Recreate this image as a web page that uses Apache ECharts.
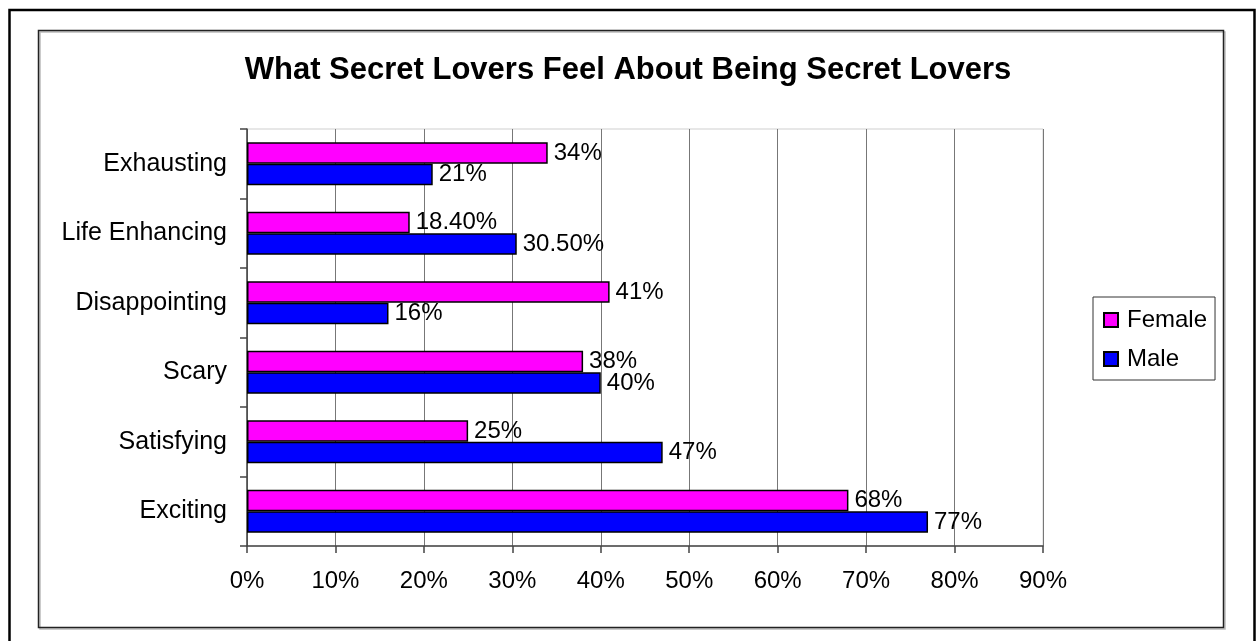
<!DOCTYPE html>
<html>
<head>
<meta charset="utf-8">
<script src="https://cdn.jsdelivr.net/npm/echarts@6/dist/echarts.min.js"></script>
<style>
html,body{margin:0;padding:0;background:#fff;}
#c{width:1256px;height:641px;}
</style>
</head>
<body>
<div id="c"></div>
<script>
var categories = ['Exciting', 'Satisfying', 'Scary', 'Disappointing', 'Life Enhancing', 'Exhausting'];
var femaleValues = [68, 25, 38, 41, 18.4, 34];
var maleValues = [77, 47, 40, 16, 30.5, 21];
var xTicks = { min: 0, max: 90, interval: 10 };
var titleText = 'What Secret Lovers Feel About Being Secret Lovers';

var FONT = '"Liberation Sans", Arial, sans-serif';
function pct(v) {
  return (v % 1 === 0 ? String(v) : v.toFixed(2)) + '%';
}
var chart = echarts.init(document.getElementById('c'), null, { renderer: 'canvas' });
var labelOpt = {
  show: true,
  position: 'right',
  distance: 6,
  color: '#000',
  fontFamily: FONT,
  fontSize: 24,
  formatter: function (p) { return pct(p.value); }
};
chart.setOption({
  animation: false,
  backgroundColor: '#fff',
  title: {
    text: titleText,
    left: 'center',
    top: 50,
    textStyle: { fontFamily: FONT, fontSize: 31, fontWeight: 'bold', color: '#000' }
  },
  graphic: [
    { type: 'rect', shape: { x: 9.5, y: 10, width: 1245, height: 660 }, style: { fill: 'none', stroke: '#000', lineWidth: 2.5 }, z: 100 },
    { type: 'rect', shape: { x: 40, y: 32, width: 1185, height: 597 }, style: { fill: 'none', stroke: '#bbb', lineWidth: 1.5 }, z: 99 },
    { type: 'rect', shape: { x: 38.5, y: 30.5, width: 1185, height: 597 }, style: { fill: 'none', stroke: '#222', lineWidth: 1.5 }, z: 100 }
  ],
  legend: {
    data: ['Female', 'Male'],
    orient: 'vertical',
    left: 1093,
    top: 297,
    padding: [11, 8, 9, 10],
    itemGap: 15,
    itemWidth: 14,
    itemHeight: 14,
    icon: 'rect',
    borderColor: '#333',
    borderWidth: 1,
    textStyle: { fontFamily: FONT, fontSize: 24, color: '#000', padding: [0, 0, 0, 4] }
  },
  grid: {
    left: 247, top: 129, right: 213, bottom: 95,
    show: true, borderColor: '#cfcfcf', borderWidth: 1
  },
  xAxis: {
    type: 'value',
    min: xTicks.min, max: xTicks.max, interval: xTicks.interval,
    axisLine: { show: true, lineStyle: { color: '#444', width: 1.5 } },
    axisTick: { show: true, inside: false, length: 7, lineStyle: { color: '#444', width: 1.5 } },
    splitLine: { show: true, lineStyle: { color: '#777', width: 1 } },
    axisLabel: { margin: 23, fontFamily: FONT, fontSize: 24, color: '#000', formatter: '{value}%' }
  },
  yAxis: {
    type: 'category',
    data: categories,
    axisLine: { show: true, lineStyle: { color: '#444', width: 1.5 } },
    axisTick: { show: true, inside: false, length: 7, lineStyle: { color: '#444', width: 1.5 } },
    axisLabel: { margin: 20, fontFamily: FONT, fontSize: 25, color: '#000' }
  },
  series: [
    {
      name: 'Female', type: 'bar', data: femaleValues,
      barGap: '0%', barCategoryGap: '38%',
      itemStyle: { color: '#FF00FF', borderColor: '#000', borderWidth: 1.5 },
      label: labelOpt
    },
    {
      name: 'Male', type: 'bar', data: maleValues,
      barGap: '0%', barCategoryGap: '38%',
      itemStyle: { color: '#0000FF', borderColor: '#000', borderWidth: 1.5 },
      label: labelOpt
    }
  ]
});
</script>
</body>
</html>
